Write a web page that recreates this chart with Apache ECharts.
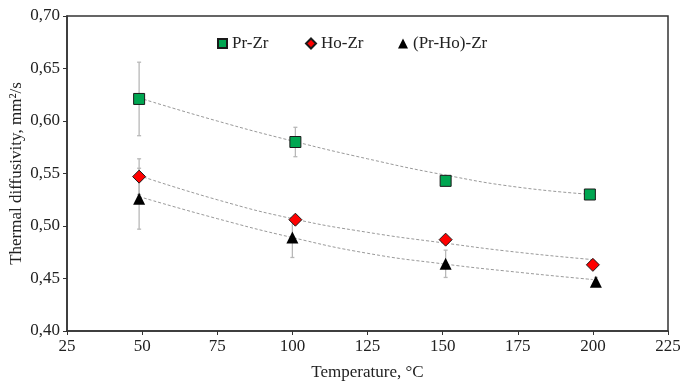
<!DOCTYPE html>
<html>
<head>
<meta charset="utf-8">
<script src="https://cdn.jsdelivr.net/npm/echarts@6/dist/echarts.min.js"></script>
<style>
  html, body { margin: 0; padding: 0; background: #fff; }
  #chart { width: 680px; height: 386px; }
</style>
</head>
<body>
<div id="chart"></div>
<script>
// measured points: temperature (°C), diffusivity (mm²/s), error bar half-width
const seriesNames = ['Pr-Zr', 'Ho-Zr', '(Pr-Ho)-Zr'];

const prZrTemp = [49, 101, 151, 199];
const prZrValue = [0.621, 0.580, 0.543, 0.530];
const prZrErr = [0.035, 0.014, 0.003, 0.003];

const hoZrTemp = [49, 101, 151, 200];
const hoZrValue = [0.547, 0.506, 0.487, 0.463];
const hoZrErr = [0.017, 0.004, 0.003, 0.003];

const prHoZrTemp = [49, 100, 151, 201];
const prHoZrValue = [0.526, 0.489, 0.464, 0.447];
const prHoZrErr = [0.029, 0.019, 0.013, 0.004];

// trend curves
const trendTemp = [49, 75, 100, 125, 150, 175, 200];
const prZrTrend = [0.622, 0.600, 0.581, 0.564, 0.549, 0.537, 0.530];
const hoZrTrend = [0.548, 0.525, 0.507, 0.494, 0.484, 0.475, 0.468];
const prHoZrTrend = [0.528, 0.507, 0.489, 0.474, 0.464, 0.456, 0.449];

const xTicks = [25, 50, 75, 100, 125, 150, 175, 200, 225];
const yTicks = [0.40, 0.45, 0.50, 0.55, 0.60, 0.65, 0.70];

const FONT = '"Liberation Serif", "Times New Roman", serif';
const COLORS = ['#00A651', '#FF0000', '#000000'];
const SYMBOLS = ['rect', 'diamond', 'triangle'];
const SIZES = [11, 13, 12];
const LEGEND_LEFT = [217, 305, 398];

function zip(xs, ys) {
  return xs.map((x, i) => [x, ys[i]]);
}

function errorSeries(temps, values, errs) {
  return {
    type: 'custom',
    silent: true,
    z: 1,
    data: temps.map((t, i) => [t, values[i] - errs[i], values[i] + errs[i]]),
    renderItem: function (params, api) {
      const lo = api.coord([api.value(0), api.value(1)]);
      const hi = api.coord([api.value(0), api.value(2)]);
      const cap = 2;
      const style = { stroke: '#b8b8b8', lineWidth: 1.3 };
      return {
        type: 'group',
        children: [
          { type: 'line', shape: { x1: lo[0], y1: lo[1], x2: hi[0], y2: hi[1] }, style },
          { type: 'line', shape: { x1: lo[0] - cap, y1: lo[1], x2: lo[0] + cap, y2: lo[1] }, style },
          { type: 'line', shape: { x1: hi[0] - cap, y1: hi[1], x2: hi[0] + cap, y2: hi[1] }, style },
        ],
      };
    },
  };
}

function trendSeries(values) {
  return {
    type: 'line',
    smooth: true,
    showSymbol: false,
    silent: true,
    z: 2,
    data: zip(trendTemp, values),
    lineStyle: { color: '#9a9a9a', width: 1, type: [3, 2] },
  };
}

function markerSeries(i, temps, values) {
  return {
    name: seriesNames[i],
    type: 'scatter',
    symbol: SYMBOLS[i],
    symbolSize: SIZES[i],
    z: 5,
    data: zip(temps, values),
    itemStyle: {
      color: COLORS[i],
      borderColor: '#1a1a1a',
      borderWidth: i === 2 ? 0 : 1,
      opacity: 1,
    },
  };
}

// one legend per item so each entry sits where it does in the figure
const legends = seriesNames.map((n, i) => ({
  top: 35,
  left: LEGEND_LEFT[i],
  padding: 0,
  itemWidth: i === 0 ? 9 : 10,
  itemHeight: i === 0 ? 9 : 10,
  itemGap: 0,
  textStyle: { fontFamily: FONT, fontSize: 17, color: '#222' },
  data: [{ name: n, icon: SYMBOLS[i] }],
}));

const chart = echarts.init(document.getElementById('chart'), null, { renderer: 'canvas' });

chart.setOption({
  animation: false,
  backgroundColor: '#fff',
  textStyle: { fontFamily: FONT, color: '#222' },
  grid: {
    left: 67, right: 12, top: 16, bottom: 55,
    containLabel: false,
    outerBoundsMode: 'none',
    show: true, borderColor: '#333', borderWidth: 1.5,
  },
  legend: legends,
  xAxis: {
    type: 'value',
    min: xTicks[0],
    max: xTicks[xTicks.length - 1],
    interval: 25,
    name: 'Temperature, °C',
    nameLocation: 'middle',
    nameGap: 33,
    nameMoveOverlap: false,
    nameTextStyle: { fontFamily: FONT, fontSize: 17, color: '#222' },
    axisLine: { show: true, lineStyle: { color: '#333', width: 1.5 } },
    axisTick: { show: true, inside: false, length: 4, lineStyle: { color: '#333' } },
    axisLabel: { fontFamily: FONT, fontSize: 17, color: '#222', margin: 7 },
    splitLine: { show: false },
  },
  yAxis: {
    type: 'value',
    min: yTicks[0],
    max: yTicks[yTicks.length - 1],
    interval: 0.05,
    name: 'Thermal diffusivity, mm²/s',
    nameLocation: 'middle',
    nameGap: 42,
    nameMoveOverlap: false,
    nameTextStyle: { fontFamily: FONT, fontSize: 17, color: '#222' },
    axisLine: { show: true, lineStyle: { color: '#333', width: 1.5 } },
    axisTick: { show: true, inside: false, length: 4, lineStyle: { color: '#333' } },
    axisLabel: {
      fontFamily: FONT, fontSize: 17, color: '#222', margin: 7,
      formatter: (v) => v.toFixed(2).replace('.', ','),
    },
    splitLine: { show: false },
  },
  series: [
    errorSeries(prZrTemp, prZrValue, prZrErr),
    errorSeries(hoZrTemp, hoZrValue, hoZrErr),
    errorSeries(prHoZrTemp, prHoZrValue, prHoZrErr),
    trendSeries(prZrTrend),
    trendSeries(hoZrTrend),
    trendSeries(prHoZrTrend),
    markerSeries(0, prZrTemp, prZrValue),
    markerSeries(1, hoZrTemp, hoZrValue),
    markerSeries(2, prHoZrTemp, prHoZrValue),
  ],
});
</script>
</body>
</html>
